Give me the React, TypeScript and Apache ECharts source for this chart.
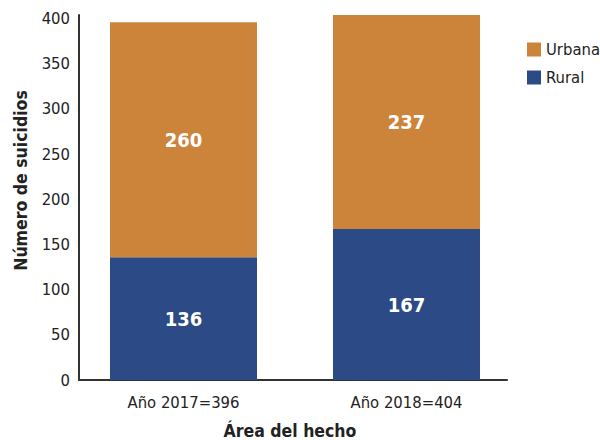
import React, { useEffect, useRef } from "react";
import * as echarts from "echarts";

const categories = ["Año 2017=396", "Año 2018=404"];
const rural = [136, 167];
const urbana = [260, 237];
const yTicks = [0, 50, 100, 150, 200, 250, 300, 350, 400];

const FONT = "'DejaVu Sans Condensed', 'DejaVu Sans', sans-serif";

export default function App() {
  const ref = useRef<HTMLDivElement>(null);
  useEffect(() => {
    document.body.style.margin = "0";
    if (!ref.current) return;
    const chart = echarts.init(ref.current, null, { renderer: "svg" });
    const labelStyle = {
      show: true,
      position: "inside" as const,
      color: "#ffffff",
      fontWeight: "bold" as const,
      fontSize: 20,
      fontFamily: FONT,
    };
    const yBase = { type: "value" as const, min: yTicks[0], max: 404, interval: 50 };
    const legendText = { fontSize: 16.5, color: "#222", fontFamily: FONT };
    chart.setOption({
      animation: false,
      backgroundColor: "#ffffff",
      textStyle: { fontFamily: FONT },
      grid: [
        { left: 72, right: 82, top: 15, bottom: 60, containLabel: false, outerBoundsMode: "none" },
        { left: 79, right: 93, top: 15, bottom: 60, containLabel: false, outerBoundsMode: "none" },
      ],
      legend: {
        data: [
          { name: "Urbana", textStyle: legendText },
          { name: "Rural", textStyle: legendText },
        ],
        orient: "vertical",
        left: 522,
        top: 36,
        itemWidth: 14,
        itemHeight: 14,
        itemGap: 11,
        icon: "rect",
        textStyle: legendText,
      },
      xAxis: [
        {
          type: "category",
          gridIndex: 0,
          data: categories,
          axisLine: { show: false },
          axisTick: { show: false },
          axisLabel: { fontSize: 16.5, color: "#222", margin: 14, fontFamily: FONT },
        },
        {
          type: "category",
          gridIndex: 1,
          data: categories,
          name: "Área del hecho",
          nameLocation: "middle",
          nameGap: 42,
          nameTextStyle: { fontSize: 17.5, fontWeight: "bold", color: "#222", fontFamily: FONT, padding: [0, 6, 0, 0] },
          axisLine: { show: true, lineStyle: { color: "#333", width: 2 } },
          axisTick: { show: false },
          axisLabel: { show: false },
        },
      ],
      yAxis: [
        {
          ...yBase,
          gridIndex: 0,
          show: false,
        },
        {
          ...yBase,
          gridIndex: 1,
          name: "Número de suicidios",
          nameLocation: "middle",
          nameGap: 49,
          nameTextStyle: { fontSize: 17.5, fontWeight: "bold", color: "#222", fontFamily: FONT, padding: [0, 0, 0, 34] },
          axisLine: { show: true, lineStyle: { color: "#333", width: 2 } },
          axisTick: { show: false },
          splitLine: { show: false },
          axisLabel: {
            fontSize: 16.5,
            color: "#222",
            margin: 9,
            fontFamily: FONT,
            showMaxLabel: false,
            formatter: (v: number) => (yTicks.includes(v) ? String(v) : ""),
          },
        },
      ],
      series: [
        {
          name: "Rural",
          type: "bar",
          stack: "total",
          xAxisIndex: 0,
          yAxisIndex: 0,
          data: rural,
          barWidth: 147,
          itemStyle: { color: "#2C4A86" },
          label: labelStyle,
        },
        {
          name: "Urbana",
          type: "bar",
          stack: "total",
          xAxisIndex: 0,
          yAxisIndex: 0,
          data: urbana,
          barWidth: 147,
          itemStyle: { color: "#CC843B" },
          label: labelStyle,
        },
      ],
    });
    return () => chart.dispose();
  }, []);
  return <div ref={ref} style={{ width: 600, height: 440 }} />;
}
